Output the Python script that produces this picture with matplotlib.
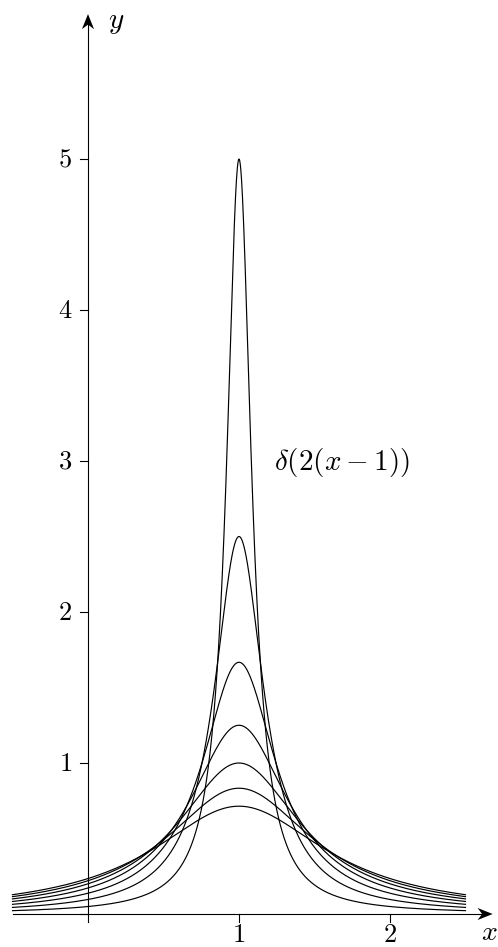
import numpy as np
import matplotlib
matplotlib.use("Agg")
import matplotlib.pyplot as plt
from matplotlib.patches import Polygon

plt.rcParams['mathtext.fontset'] = 'cm'
plt.rcParams['font.family'] = ['DejaVu Serif']

# peak heights and half widths of the bumps
peaks = [5.0, 2.5, 1.667, 1.25, 1.0, 0.833, 0.714]
half_widths = [0.1, 0.2, 0.3, 0.4, 0.5, 0.6, 0.7]
centre = 1.0
x_range = (-0.5, 2.5)

x_ticks = [1, 2]
y_ticks = [1, 2, 3, 4, 5]
label = r'$\delta(2(x-1))$'


def bump(x, h, w):
    return h / (1 + ((x - centre) / w) ** 2)


def main():
    fig = plt.figure(figsize=(4.98, 9.47), dpi=100)
    ax = fig.add_axes([0, 0, 1, 1])
    ax.set_xlim(-88 / 151, 410 / 151)
    ax.set_ylim(-33 / 151, 914 / 151)
    ax.axis('off')

    x = np.linspace(x_range[0], x_range[1], 1500)
    for h, w in zip(peaks, half_widths):
        ax.plot(x, bump(x, h, w), color='black', lw=0.85)

    # axes with arrow heads
    ax.plot([-0.5, 2.6], [0, 0], color='black', lw=0.8)
    ax.plot([0, 0], [-0.05, 5.9], color='black', lw=0.8)
    hl, hw, nl = 0.1, 0.04, 0.07
    tx = 2.68
    ax.add_patch(Polygon([[tx, 0], [tx - hl, hw], [tx - nl, 0], [tx - hl, -hw]],
                         closed=True, color='black', lw=0))
    ty = 5.96
    ax.add_patch(Polygon([[0, ty], [hw, ty - hl], [0, ty - nl], [-hw, ty - hl]],
                         closed=True, color='black', lw=0))
    ax.text(0.13, 5.91, '$y$', fontsize=21, ha='left', va='center')
    ax.text(2.66, -0.125, '$x$', fontsize=20, ha='center', va='center')

    # ticks
    for t in x_ticks:
        ax.plot([t, t], [0, -0.05], color='black', lw=0.8)
        ax.text(t, -0.135, f'${t}$', fontsize=19, ha='center', va='center')
    for t in [0] + y_ticks:
        ax.plot([-0.055, 0], [t, t], color='black', lw=0.8)
    for t in y_ticks:
        ax.text(-0.15, t, f'${t}$', fontsize=19, ha='center', va='center')

    ax.text(1.235, 2.99, label, fontsize=21, ha='left', va='center')

    fig.savefig('out.png', dpi=100)


if __name__ == "__main__":
    main()
